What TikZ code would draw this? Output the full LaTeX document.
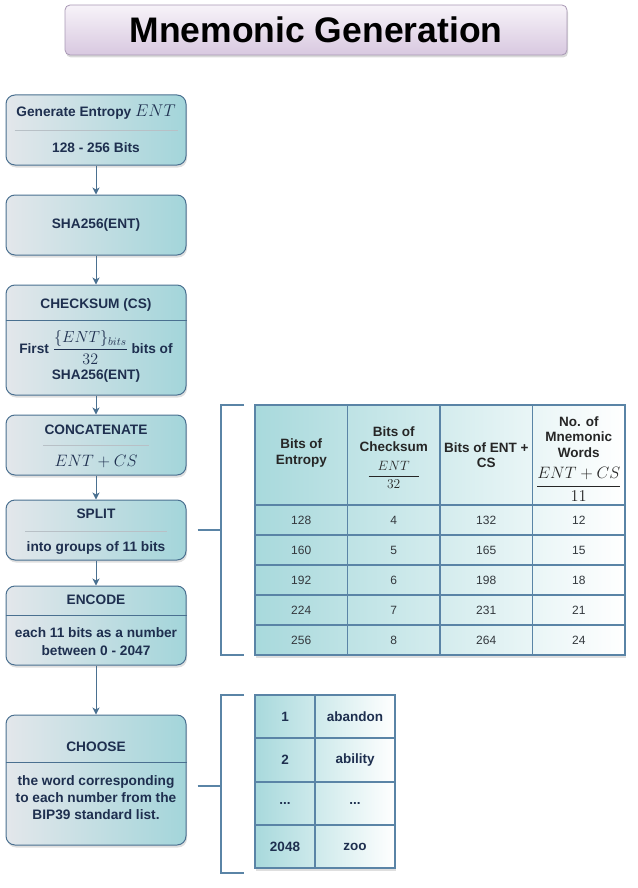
\RequirePackage{fix-cm}
\documentclass[tikz,border=0pt]{standalone}
\usepackage[no-math]{fontspec}
\setmainfont{Liberation Sans}
\usepackage{xcolor}
\usepackage{tikz}
\usetikzlibrary{positioning,shadows,arrows.meta}

\definecolor{boxline}{HTML}{4A7090}
\definecolor{boxleft}{HTML}{E3E7EB}
\definecolor{boxright}{HTML}{A3D5DA}
\definecolor{navy}{HTML}{1E2F4F}
\definecolor{tabline}{HTML}{5A84A6}
\definecolor{tabteal}{HTML}{A8D9DC}
\definecolor{tabtext}{HTML}{33383D}
\definecolor{titletop}{HTML}{F7F3F9}
\definecolor{titlebot}{HTML}{D8C8E0}
\definecolor{titleline}{HTML}{A898B4}
\definecolor{divgray}{HTML}{B8C0C6}

\begin{document}
\begin{tikzpicture}[x=1pt, y=1pt, >={Stealth[length=7pt, width=7pt, inset=2pt]},
  stepbox/.style={draw=boxline, line width=1pt, rounded corners=9pt, left color=boxleft, right color=boxright,
    minimum width=180pt, inner sep=0pt, drop shadow={shadow xshift=1pt, shadow yshift=-2.5pt, opacity=0.25}},
  head/.style={font=\fontsize{13.7}{17}\selectfont\bfseries, text=navy, align=center, inner sep=0pt},
  thinrule/.style={draw=divgray, line width=0.8pt},
  fullrule/.style={draw=boxline, line width=0.8pt},
  flow/.style={->, draw=boxline, line width=1pt},
  bracket/.style={draw=tabline, line width=1.5pt},
  grid/.style={draw=tabline, line width=1.2pt},
  tabback/.style={left color=tabteal, right color=white, drop shadow={shadow xshift=1pt, shadow yshift=-2.5pt, opacity=0.25}},
  headcell/.style={font=\fontsize{13.5}{15.5}\selectfont\bfseries, text=black!85, align=center, inner sep=0pt},
  rowcell/.style={font=\fontsize{12}{14}\selectfont, text=tabtext, inner sep=0pt},
  wordcell/.style={font=\fontsize{13.5}{15.5}\selectfont\bfseries, text=navy, inner sep=0pt}]

\useasboundingbox (0,0) rectangle (637,-888);

% title
\node [draw=titleline, line width=0.8pt, rounded corners=5pt, top color=titletop, bottom color=titlebot,
  minimum width=502pt, minimum height=50pt, inner sep=0pt,
  drop shadow={shadow xshift=1pt, shadow yshift=-2.5pt, opacity=0.3},
  font=\fontsize{35.5}{40}\selectfont\bfseries] (title) at (316,-30) {Mnemonic Generation};

% steps
\node [stepbox, minimum height=70pt] (ent) at (96,-130) {};
\node [stepbox, minimum height=60pt, below=29pt of ent] (sha) {};
\node [stepbox, minimum height=110pt, below=29pt of sha] (cs) {};
\node [stepbox, minimum height=60pt, below=19pt of cs] (cat) {};
\node [stepbox, minimum height=60pt, below=24pt of cat] (split) {};
\node [stepbox, minimum height=79pt, below=25pt of split] (enc) {};
\node [stepbox, minimum height=130pt, below=49pt of enc] (choose) {};

\node [head] (ent-t) at ([yshift=-18pt]ent.north) {Generate Entropy {\fontsize{17}{17}\selectfont$ENT$}};
\draw [thinrule] ([xshift=9pt]ent.west) -- ([xshift=-9pt]ent.east);
\node [head] (ent-b) at ([yshift=18pt]ent.south) {128 - 256 Bits};

\node [head] (sha-t) at (sha) {SHA256(ENT)};

\node [head] (cs-t) at ([yshift=-20pt]cs.north) {CHECKSUM (CS)};
\draw [fullrule] ([yshift=-36pt]cs.north west) -- ([yshift=-36pt]cs.north east);
\node [head, anchor=base] (cs-b) at ([yshift=-69pt]cs.north) {First {\fontsize{16}{16}\selectfont$\displaystyle\frac{\{ENT\}_{bits}}{32}$} bits of};
\node [head, anchor=base] (cs-c) at ([yshift=-95pt]cs.north) {SHA256(ENT)};

\node [head] (cat-t) at ([yshift=-15pt]cat.north) {CONCATENATE};
\draw [thinrule] ([xshift=-53pt]cat.center) -- ([xshift=53pt]cat.center);
\node [head, font=\fontsize{16.5}{17}\selectfont] (cat-b) at ([yshift=14pt]cat.south) {$ENT + CS$};

\node [head] (split-t) at ([yshift=-14pt]split.north) {SPLIT};
\draw [thinrule] ([xshift=-71pt, yshift=-1pt]split.center) -- ([xshift=71pt, yshift=-1pt]split.center);
\node [head] (split-b) at ([yshift=13pt]split.south) {into groups of 11 bits};

\node [head] (enc-t) at ([yshift=-14pt]enc.north) {ENCODE};
\draw [fullrule] ([yshift=-30pt]enc.north west) -- ([yshift=-30pt]enc.north east);
\node [head, font=\fontsize{13.7}{18}\selectfont\bfseries] (enc-b) at ([yshift=23.5pt]enc.south) {each 11 bits as a number\\between 0 - 2047};

\node [head] (choose-t) at ([yshift=-32pt]choose.north) {CHOOSE};
\draw [fullrule] ([yshift=-48pt]choose.north west) -- ([yshift=-48pt]choose.north east);
\node [head] (choose-b) at ([yshift=48pt]choose.south) {the word corresponding\\to each number from the\\BIP39 standard list.};

\path
(ent) edge [flow] (sha)
(sha) edge [flow] (cs)
(cs) edge [flow] (cat)
(cat) edge [flow] (split)
(split) edge [flow] (enc)
(enc) edge [flow] (choose);

% table of sizes
\fill [tabback] (255,-405) rectangle (625,-655);
\foreach \x in {347.5,440,532.5}
  \draw [grid] (\x,-405) -- (\x,-655);
\foreach \y in {505,535,565,595,625}
  \draw [grid] (255,-\y) -- (625,-\y);
\draw [grid] (255,-405) rectangle (625,-655);

\node [headcell] (h-ent) at (301.25,-453) {Bits of\\Entropy};
\node [headcell] (h-cs) at (393.75,-457.5) {Bits of\\Checksum\\[8pt]$\displaystyle\frac{\mkern12mu ENT\mkern12mu}{32}$};
\node [headcell] (h-sum) at (486.25,-455) {Bits of ENT +\\CS};
\node [headcell] (h-words) at (578.75,-459) {No. of\\Mnemonic\\Words\\[9pt]{\fontsize{16.5}{17}\selectfont$\displaystyle\frac{ENT+CS}{11}$}};

\foreach \e/\c/\s/\w [count=\i] in {128/4/132/12, 160/5/165/15, 192/6/198/18, 224/7/231/21, 256/8/264/24} {
  \node [rowcell] (ent\i) at (301.25,-490-30*\i) {\e};
  \node [rowcell] (cs\i) at (393.75,-490-30*\i) {\c};
  \node [rowcell] (sum\i) at (486.25,-490-30*\i) {\s};
  \node [rowcell] (words\i) at (578.75,-490-30*\i) {\w};
}

\coordinate (brA) at (221,-531);
\draw [bracket] (244,-405) -| (221,-655) -- (244,-655);
\draw [bracket] ([xshift=11pt]split.east) -- (split.east -| brA);

% word list
\fill [tabback] (255,-695) rectangle (395,-868);
\draw [grid] (315,-695) -- (315,-868);
\foreach \y in {738,782,825}
  \draw [grid] (255,-\y) -- (395,-\y);
\draw [grid] (255,-695) rectangle (395,-868);

\node [wordcell] (n1) at (285,-716.5) {1};
\node [wordcell] (w1) at (355,-716.5) {abandon};
\node [wordcell] (n2) at (285,-760) {2};
\node [wordcell] (w2) at (355,-760) {ability};
\node [wordcell] (n3) at (285,-803.5) {...};
\node [wordcell] (w3) at (355,-803.5) {...};
\node [wordcell] (n4) at (285,-846.5) {2048};
\node [wordcell] (w4) at (355,-846.5) {zoo};

\coordinate (brB) at (221,-786);
\coordinate (tickB) at ([xshift=11pt, yshift=-6pt]choose.east);
\draw [bracket] (244,-695) -| (221,-873) -- (244,-873);
\draw [bracket] (tickB) -- (tickB -| brB);

\end{tikzpicture}
\end{document}
